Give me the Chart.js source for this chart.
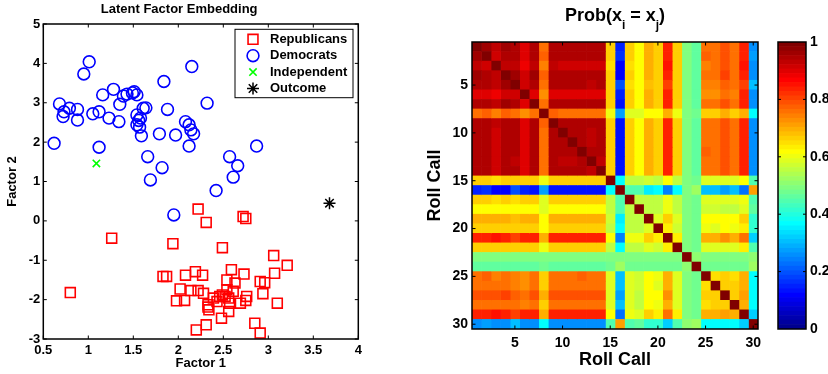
<!DOCTYPE html>
<html>
<head>
<meta charset="utf-8">
<script src="https://cdn.jsdelivr.net/npm/chart.js@4.4.0/dist/chart.umd.min.js"></script>
<style>
  body { margin: 0; background: #fff; width: 828px; height: 374px; position: relative; overflow: hidden; }
  .box { position: absolute; top: 0; height: 374px; }
</style>
</head>
<body>
<div class="box" style="left:0;width:400px"><canvas id="embedChart"></canvas></div>
<div class="box" style="left:400px;width:370px"><canvas id="probChart"></canvas></div>
<div class="box" style="left:770px;width:58px"><canvas id="scaleChart"></canvas></div>
<script>
// --- scatter: latent factor embedding ---
const repX = [0.80, 1.26, 1.94, 2.22, 2.31, 2.49, 2.72, 2.75, 3.06, 3.21, 3.07, 2.91, 2.96, 2.94, 3.10, 2.85, 2.91,
              1.83, 1.87, 2.08, 2.19, 2.27, 2.02, 2.14, 2.22, 2.28, 1.98, 2.07, 2.39, 2.49, 2.54, 2.59, 2.54, 2.63,
              2.73, 2.61, 2.56, 2.57, 2.56, 2.48, 2.33, 2.34, 2.31, 2.20, 2.69, 2.76, 2.75, 2.43, 2.46, 2.52, 2.33];
const repY = [-1.82, -0.44, -0.58, 0.30, -0.04, -0.68, 0.11, 0.06, -0.88, -1.13, -1.33, -1.54, -1.57, -1.85, -2.09, -2.60, -2.85,
              -1.41, -1.41, -1.38, -1.29, -1.38, -1.73, -1.77, -1.77, -1.84, -2.03, -2.02, -1.96, -1.88, -1.75, -1.24, -1.50, -1.58,
              -1.35, -1.79, -1.96, -2.09, -2.30, -2.47, -2.19, -2.26, -2.64, -2.77, -2.09, -1.92, -2.02, -2.05, -1.92, -1.92, -2.13];
const demX = [0.62, 1.01, 0.95, 0.68, 0.72, 0.73, 0.79, 0.88, 0.88, 1.05, 1.12, 1.16, 1.23, 1.28, 1.35, 1.34, 1.39, 1.43,
              1.51, 1.54, 1.54, 1.61, 1.58, 1.54, 1.57, 1.59, 1.79, 1.84, 1.88, 1.97, 2.08, 2.12, 2.14, 2.17, 2.15, 2.12,
              2.32, 1.66, 1.82, 2.57, 2.66, 2.87, 1.69, 2.42, 2.61, 1.95, 1.12, 1.64, 1.56, 1.49];
const demY = [1.97, 4.04, 3.73, 2.97, 2.65, 2.77, 2.86, 2.83, 2.56, 2.72, 2.77, 3.20, 2.61, 3.34, 2.96, 2.52, 3.17, 3.22,
              3.28, 3.20, 2.69, 2.86, 2.61, 2.44, 2.38, 2.16, 2.21, 3.54, 2.83, 2.18, 2.52, 2.44, 2.31, 2.21, 3.92, 1.90,
              2.99, 1.63, 1.35, 1.63, 1.40, 1.90, 1.04, 0.77, 1.11, 0.15, 1.87, 2.87, 2.55, 3.25];
const indX = [1.09];
const indY = [1.46];
const outX = [3.68];
const outY = [0.45];
const factorXTicks = [0.5, 1, 1.5, 2, 2.5, 3, 3.5, 4];
const factorYTicks = [-3, -2, -1, 0, 1, 2, 3, 4, 5];

// --- heatmap: Prob(x_i = x_j), lower triangle rows (matrix is symmetric) ---
const rollCalls = [1, 2, 3, 4, 5, 6, 7, 8, 9, 10, 11, 12, 13, 14, 15, 16, 17, 18, 19, 20, 21, 22, 23, 24, 25, 26, 27, 28, 29, 30];
const rollTicks = [5, 10, 15, 20, 25, 30];
const probLower = [
  [1],
  [.96, 1],
  [.93, .92, 1],
  [.96, .95, .93, 1],
  [.95, .95, .93, .96, 1],
  [.90, .90, .89, .91, .91, 1],
  [.95, .94, .93, .96, .94, .90, 1],
  [.76, .77, .74, .78, .75, .72, .75, 1],
  [.95, .94, .93, .95, .94, .90, .95, .77, 1],
  [.94, .94, .92, .95, .94, .90, .94, .76, .95, 1],
  [.94, .94, .92, .94, .94, .90, .94, .76, .94, .94, 1],
  [.95, .94, .92, .95, .94, .90, .94, .76, .95, .94, .95, 1],
  [.94, .94, .91, .94, .93, .90, .94, .76, .94, .93, .93, .94, 1],
  [.95, .95, .92, .95, .94, .90, .94, .76, .95, .94, .94, .95, .93, 1],
  [.67, .67, .65, .67, .66, .66, .67, .60, .67, .67, .67, .67, .67, .67, 1],
  [.15, .16, .12, .12, .19, .15, .13, .27, .13, .13, .13, .13, .13, .13, .37, 1],
  [.66, .67, .65, .66, .65, .66, .66, .59, .67, .67, .67, .67, .67, .67, .56, .44, 1],
  [.62, .62, .62, .62, .61, .62, .62, .59, .62, .62, .62, .62, .62, .62, .55, .45, .55, 1],
  [.70, .70, .70, .70, .68, .70, .70, .62, .70, .70, .70, .70, .70, .70, .57, .35, .56, .56, 1],
  [.67, .67, .67, .67, .66, .67, .67, .62, .67, .67, .67, .67, .67, .67, .56, .37, .56, .55, .59, 1],
  [.83, .83, .85, .84, .80, .84, .84, .70, .84, .84, .84, .84, .83, .84, .62, .24, .60, .60, .67, .63, 1],
  [.67, .67, .67, .67, .67, .67, .67, .60, .67, .67, .67, .67, .67, .67, .56, .37, .56, .56, .59, .57, .63, 1],
  [.49, .49, .49, .49, .49, .49, .49, .49, .49, .49, .49, .49, .49, .49, .49, .49, .49, .49, .49, .49, .49, .49, 1],
  [.46, .46, .46, .46, .46, .46, .46, .47, .46, .46, .46, .46, .46, .46, .48, .52, .48, .48, .48, .48, .48, .48, .51, 1],
  [.75, .77, .74, .76, .74, .72, .76, .66, .76, .75, .75, .77, .75, .76, .59, .31, .59, .57, .62, .60, .70, .59, .49, .48, 1],
  [.75, .75, .75, .75, .74, .73, .75, .66, .76, .75, .75, .75, .75, .75, .59, .31, .59, .57, .62, .59, .70, .59, .49, .48, .65, 1],
  [.79, .79, .79, .80, .78, .76, .79, .69, .79, .79, .79, .79, .79, .79, .59, .27, .59, .56, .62, .62, .72, .59, .49, .48, .66, .67, 1],
  [.76, .76, .75, .76, .75, .74, .76, .66, .76, .76, .76, .76, .76, .76, .59, .30, .59, .56, .62, .60, .70, .59, .49, .48, .65, .66, .67, 1],
  [.84, .83, .85, .84, .80, .84, .84, .70, .84, .84, .84, .84, .84, .84, .62, .22, .60, .59, .66, .63, .75, .63, .49, .48, .69, .69, .71, .69, 1],
  [.26, .27, .26, .26, .30, .26, .25, .37, .26, .26, .26, .26, .26, .26, .44, .71, .45, .46, .41, .42, .32, .45, .50, .52, .37, .37, .36, .37, .32, 1]
];
const colorTicks = [0, 0.2, 0.4, 0.6, 0.8, 1];

const FONT = "'Liberation Sans', Arial, Helvetica, sans-serif";
Chart.defaults.font.family = FONT;
Chart.defaults.font.weight = 'bold';
Chart.defaults.font.size = 13;
Chart.defaults.color = '#000';

// MATLAB jet(64), k = 1..64
function jetColor(k) {
  let r = 0, g = 0, b = 0;
  if (k >= 25 && k <= 40) r = (k - 24) / 16; else if (k >= 41 && k <= 55) r = 1; else if (k >= 56) r = (72 - k) / 16;
  if (k >= 9 && k <= 24) g = (k - 8) / 16; else if (k >= 25 && k <= 39) g = 1; else if (k >= 40 && k <= 55) g = (56 - k) / 16;
  if (k <= 8) b = (k + 8) / 16; else if (k <= 23) b = 1; else if (k <= 39) b = (40 - k) / 16;
  return `rgb(${Math.round(r * 255)},${Math.round(g * 255)},${Math.round(b * 255)})`;
}
function valueColor(v) {
  return jetColor(Math.min(64, Math.floor(v * 64) + 1));
}
function prob(i, j) {
  return i >= j ? probLower[i][j] : probLower[j][i];
}

// box around the plot area with inward ticks on all sides
const framePlugin = {
  id: 'frame',
  afterDatasetsDraw(chart, args, opts) {
    const { ctx, chartArea: a, scales } = chart;
    const len = opts.tickLength;
    ctx.save();
    ctx.strokeStyle = '#000';
    ctx.lineWidth = 1;
    ctx.beginPath();
    (opts.xTicks || []).forEach(v => {
      const px = scales.x.getPixelForValue(v);
      ctx.moveTo(px, a.bottom); ctx.lineTo(px, a.bottom - len);
      ctx.moveTo(px, a.top); ctx.lineTo(px, a.top + len);
    });
    (opts.yTicks || []).forEach(v => {
      const py = scales.y.getPixelForValue(v);
      ctx.moveTo(a.left, py); ctx.lineTo(a.left + len, py);
      ctx.moveTo(a.right, py); ctx.lineTo(a.right - len, py);
    });
    ctx.stroke();
    ctx.lineWidth = opts.lineWidth;
    ctx.strokeRect(a.left, a.top, a.right - a.left, a.bottom - a.top);
    ctx.restore();
  }
};

// MATLAB-like boxed legend inside the axes
const boxLegend = {
  id: 'boxLegend',
  afterDraw(chart, args, opts) {
    const { ctx } = chart;
    const [x0, y0, w, h] = opts.box;
    ctx.save();
    ctx.fillStyle = '#fff';
    ctx.fillRect(x0, y0, w, h);
    ctx.strokeStyle = '#000';
    ctx.lineWidth = 1;
    ctx.strokeRect(x0, y0, w, h);
    ctx.font = `bold 13px ${FONT}`;
    ctx.textBaseline = 'middle';
    chart.data.datasets.forEach((ds, i) => {
      const y = y0 + opts.firstRow + i * opts.rowGap;
      ctx.strokeStyle = ds.borderColor;
      ctx.fillStyle = 'rgba(0,0,0,0)';
      ctx.lineWidth = ds.borderWidth;
      Chart.helpers.drawPoint(ctx, { pointStyle: ds.pointStyle, radius: ds.pointRadius, borderWidth: ds.borderWidth, rotation: 0 }, x0 + opts.markerX, y);
      ctx.fillStyle = '#000';
      ctx.fillText(ds.label, x0 + opts.textX, y);
    });
    ctx.restore();
  }
};

// title with subscripts
const subTitle = {
  id: 'subTitle',
  afterDraw(chart, args, opts) {
    const { ctx, chartArea: a } = chart;
    const parts = [['Prob(x', 0], ['i', 1], [' = x', 0], ['j', 1], [')', 0]];
    const big = `bold 18px ${FONT}`, small = `bold 12px ${FONT}`;
    ctx.save();
    ctx.fillStyle = '#000';
    ctx.textBaseline = 'alphabetic';
    let total = 0;
    parts.forEach(([t, s]) => { ctx.font = s ? small : big; total += ctx.measureText(t).width; });
    let x = (a.left + a.right) / 2 - total / 2;
    parts.forEach(([t, s]) => {
      ctx.font = s ? small : big;
      ctx.fillText(t, x, opts.baseline + (s ? 8 : 0));
      x += ctx.measureText(t).width;
    });
    ctx.restore();
  }
};

const hidden = { display: false, drawTicks: false };

new Chart(document.getElementById('embedChart'), {
  type: 'scatter',
  data: {
    datasets: [
      { label: 'Republicans', data: repX.map((x, i) => ({ x, y: repY[i] })), pointStyle: 'rect', pointRadius: 7,
        borderColor: '#ff0000', backgroundColor: 'rgba(0,0,0,0)', borderWidth: 1.6 },
      { label: 'Democrats', data: demX.map((x, i) => ({ x, y: demY[i] })), pointStyle: 'circle', pointRadius: 5.9,
        borderColor: '#0000ff', backgroundColor: 'rgba(0,0,0,0)', borderWidth: 1.6 },
      { label: 'Independent', data: indX.map((x, i) => ({ x, y: indY[i] })), pointStyle: 'crossRot', pointRadius: 5.2,
        borderColor: '#00ff00', backgroundColor: 'rgba(0,0,0,0)', borderWidth: 1.6 },
      { label: 'Outcome', data: outX.map((x, i) => ({ x, y: outY[i] })), pointStyle: 'star', pointRadius: 6,
        borderColor: '#000000', backgroundColor: 'rgba(0,0,0,0)', borderWidth: 1.5 }
    ]
  },
  plugins: [framePlugin, boxLegend],
  options: {
    responsive: true,
    maintainAspectRatio: false,
    animation: false,
    events: [],
    layout: { padding: { left: 0, right: 41.7, top: 0, bottom: 0 } },
    scales: {
      x: {
        type: 'linear', min: 0.5, max: 4,
        grid: hidden, border: { display: false },
        afterBuildTicks: s => { s.ticks = factorXTicks.map(v => ({ value: v })); },
        ticks: { padding: 4, callback: v => String(v) },
        title: { display: true, text: 'Factor 1', font: { size: 13, weight: 'bold' }, padding: { top: 0, bottom: 2.5 } },
        afterFit: s => { s.height = 35; }
      },
      y: {
        type: 'linear', min: -3, max: 5,
        grid: hidden, border: { display: false },
        afterBuildTicks: s => { s.ticks = factorYTicks.map(v => ({ value: v })); },
        ticks: { padding: 3, callback: v => String(v) },
        title: { display: true, text: 'Factor 2', font: { size: 13, weight: 'bold' }, padding: { top: 4.7, bottom: 0 } },
        afterFit: s => { s.width = 43.3; }
      }
    },
    plugins: {
      legend: { display: false },
      tooltip: { enabled: false },
      title: { display: true, text: 'Latent Factor Embedding', font: { size: 13, weight: 'bold' }, padding: { top: 2, bottom: 6.4 } },
      frame: { xTicks: factorXTicks, yTicks: factorYTicks, tickLength: 3.5, lineWidth: 1.5 },
      boxLegend: { box: [235, 29.3, 118, 68.4], firstRow: 10, rowGap: 16.4, markerX: 18, textX: 35 }
    }
  }
});

// heatmap: one floating-bar dataset per column
const heatSets = rollCalls.map((col, j) => ({
  label: 'col ' + col,
  data: rollCalls.map(() => [col - 0.5, col + 0.5]),
  backgroundColor: rollCalls.map((row, i) => valueColor(prob(i, j))),
  borderWidth: 0,
  grouped: false,
  barPercentage: 1,
  categoryPercentage: 1
}));

new Chart(document.getElementById('probChart'), {
  type: 'bar',
  data: { labels: rollCalls.map(String), datasets: heatSets },
  plugins: [framePlugin, subTitle],
  options: {
    indexAxis: 'y',
    responsive: true,
    maintainAspectRatio: false,
    animation: false,
    events: [],
    layout: { padding: { left: 0, right: 12, top: 42, bottom: 0 } },
    scales: {
      x: {
        type: 'linear', min: 0.5, max: 30.5,
        grid: hidden, border: { display: false },
        afterBuildTicks: s => { s.ticks = rollTicks.map(v => ({ value: v })); },
        ticks: { padding: 6, font: { size: 14, weight: 'bold' } },
        title: { display: true, text: 'Roll Call', font: { size: 18, weight: 'bold' }, padding: { top: 0, bottom: 3.2 } },
        afterFit: s => { s.height = 45; }
      },
      y: {
        type: 'category',
        grid: hidden, border: { display: false },
        ticks: {
          padding: 4, autoSkip: false, font: { size: 14, weight: 'bold' },
          callback: (v, i) => rollTicks.includes(rollCalls[i]) ? String(rollCalls[i]) : ''
        },
        title: { display: true, text: 'Roll Call', font: { size: 18, weight: 'bold' }, padding: { top: 24, bottom: 0 } },
        afterFit: s => { s.width = 72; }
      }
    },
    plugins: {
      legend: { display: false },
      tooltip: { enabled: false },
      frame: { xTicks: rollTicks, yTicks: rollTicks.map(v => rollCalls.indexOf(v)), tickLength: 3.5, lineWidth: 1.5 },
      subTitle: { baseline: 20.7 }
    }
  }
});

// colour bar: 64 jet levels stacked from 0 to 1
const levels = [];
for (let k = 0; k < 64; k++) levels.push(k);
new Chart(document.getElementById('scaleChart'), {
  type: 'bar',
  data: {
    labels: [''],
    datasets: levels.map(k => ({
      data: [[k / 64, (k + 1) / 64]],
      backgroundColor: jetColor(k + 1),
      borderWidth: 0, grouped: false, barPercentage: 1, categoryPercentage: 1
    }))
  },
  plugins: [framePlugin],
  options: {
    responsive: true,
    maintainAspectRatio: false,
    animation: false,
    events: [],
    layout: { padding: { left: 8, right: 0, top: 42, bottom: 45 } },
    scales: {
      x: { display: false },
      y: {
        type: 'linear', position: 'right', min: 0, max: 1,
        grid: hidden, border: { display: false },
        afterBuildTicks: s => { s.ticks = colorTicks.map(v => ({ value: v })); },
        ticks: { padding: 4, font: { size: 14, weight: 'bold' }, callback: v => String(v) },
        afterFit: s => { s.width = 22; }
      }
    },
    plugins: {
      legend: { display: false },
      tooltip: { enabled: false },
      frame: { yTicks: colorTicks.slice(1, -1), tickLength: 3, lineWidth: 1.5 }
    }
  }
});
</script>
</body>
</html>
